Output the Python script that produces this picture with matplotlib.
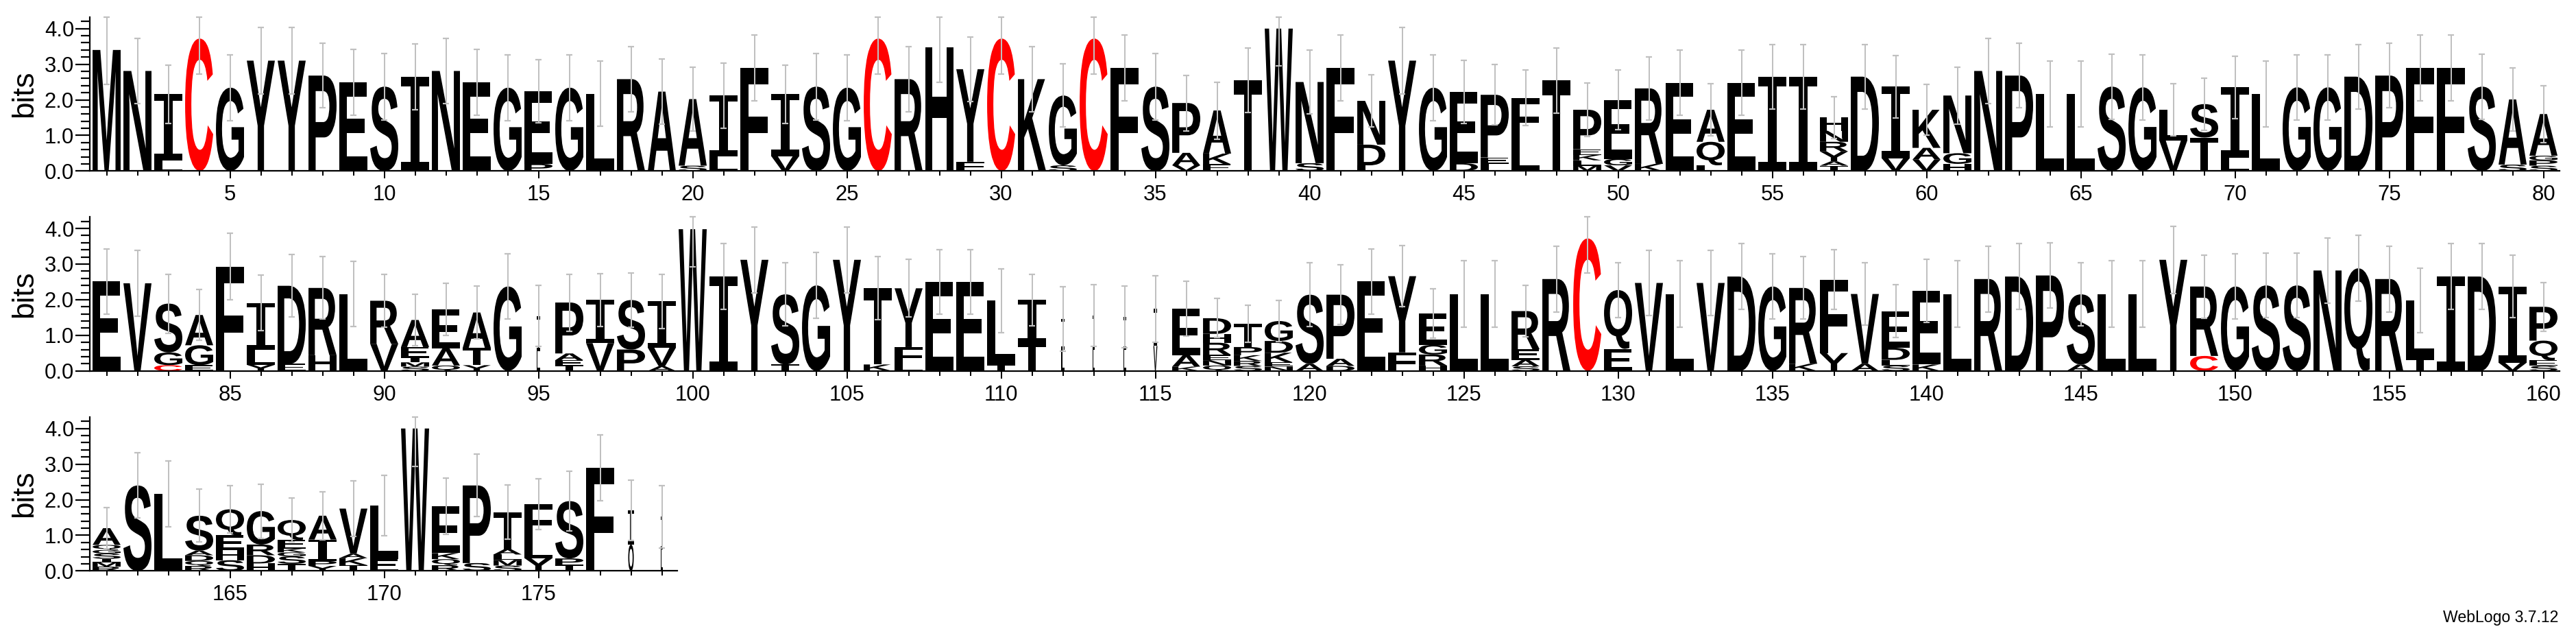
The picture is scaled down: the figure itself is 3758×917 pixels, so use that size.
import matplotlib
matplotlib.use("Agg")
import matplotlib.pyplot as plt
from matplotlib.textpath import TextPath
from matplotlib.patches import PathPatch
from matplotlib.path import Path
from matplotlib.font_manager import FontProperties
from matplotlib.transforms import Affine2D
import numpy as np

# ---------------- data (letters bottom -> top, heights in bits) ----------------
row1_letters = ["M", "N", "LI", "C", "G", "Y", "Y", "P", "E", "S",
                "I", "N", "E", "G", "PE", "G", "L", "R", "A", "SA",
                "LI", "F", "VI", "S", "G", "C", "R", "H", "FY", "C",
                "K", "SG", "C", "F", "S", "VAP", "EKA", "T", "W", "SN",
                "F", "LDN", "Y", "G", "DE", "LEP", "LF", "T", "MLKEP", "VGE",
                "KR", "E", "LQA", "E", "I", "I", "TAYRNH", "D", "VI", "VAK",
                "HGN", "N", "P", "L", "L", "S", "G", "VL", "TS", "LI",
                "L", "G", "G", "D", "P", "F", "F", "S", "SA", "SPGA"]
row1_heights = [[3.40], [2.81], [0.30, 1.86], [3.72], [2.34], [3.10], [3.10], [2.68], [2.49], [2.37],
                [2.65], [2.81], [2.49], [2.34], [0.20, 2.04], [2.34], [2.17], [2.58], [2.23], [0.15, 1.87],
                [0.42, 1.70], [2.90], [0.42, 1.74], [2.37], [2.34], [3.72], [2.58], [3.47], [0.26, 2.60], [3.72],
                [2.58], [0.16, 1.96], [3.72], [2.90], [2.37], [0.16, 0.35, 1.40], [0.19, 0.30, 1.21], [2.55], [4.00], [0.22, 2.28],
                [2.90], [0.16, 0.58, 1.23], [3.10], [2.34], [0.22, 2.00], [0.20, 0.18, 1.76], [0.94, 1.11], [2.54],
                [0.15, 0.15, 0.15, 0.16, 1.11], [0.16, 0.18, 1.66],
                [0.20, 2.12], [2.48], [0.16, 0.66, 0.90], [2.48], [2.65], [2.65],
                [0.15, 0.12, 0.28, 0.27, 0.31, 0.37], [2.65], [0.36, 2.01], [0.32, 0.33, 1.07],
                [0.20, 0.30, 1.62], [2.81], [2.68], [2.16], [2.16], [2.37], [2.35], [0.86, 0.86], [0.94, 0.94], [0.38, 1.97],
                [2.16], [2.35], [2.35], [2.65], [2.68], [2.90], [2.90], [2.37], [0.18, 1.83], [0.15, 0.15, 0.13, 1.17]]
row1_errors = [0.97, 0.92, 0.82, 0.99, 0.92, 0.93, 0.93, 0.91, 0.92, 0.93,
               0.92, 0.92, 0.92, 0.92, 0.89, 0.92, 0.92, 0.92, 0.92, 0.89,
               0.92, 0.93, 0.82, 0.93, 0.92, 0.99, 0.92, 0.97, 0.90, 0.99,
               0.92, 0.89, 0.99, 0.93, 0.93, 0.78, 0.80, 0.91, 1.05, 0.89,
               0.93, 0.73, 0.94, 0.92, 0.88, 0.85, 0.78, 0.91, 0.75, 0.84,
               0.89, 0.92, 0.74, 0.92, 0.91, 0.91, 0.59, 0.91, 0.88, 0.72,
               0.80, 0.92, 0.91, 0.92, 0.92, 0.92, 0.92, 0.74, 0.73, 0.88,
               0.92, 0.92, 0.92, 0.91, 0.90, 0.93, 0.93, 0.92, 0.89, 0.80]

row2_letters = ["E", "V", "CGS", "EGA", "F", "YLI", "ED", "HR", "L", "VR",
                "SMIEA", "QAE", "YTA", "G", "LI", "TEAP", "VI", "PS", "AVI", "W",
                "I", "Y", "TS", "G", "Y", "KT", "LFY", "E", "E", "TL",
                "TI", "LI", "LI", "LI", "VI", "KAE", "QNERHD", "SRKPT", "NEKDG", "AS",
                "DAP", "E", "FY", "HRGE", "L", "L", "SAER", "R", "C", "EQ",
                "V", "L", "V", "D", "G", "KR", "YF", "AV", "SLDE", "KE",
                "L", "R", "D", "P", "AS", "L", "L", "Y", "CR", "G",
                "S", "S", "N", "Q", "R", "TL", "I", "D", "VI", "SEQP"]
row2_heights = [[2.51], [2.46], [0.16, 0.36, 1.37], [0.16, 0.56, 0.85], [2.93], [0.17, 0.42, 1.32], [0.20, 2.19], [0.44, 1.89], [2.16], [0.76, 1.21],
                [0.12, 0.12, 0.13, 0.30, 0.76], [0.15, 0.48, 1.10], [0.16, 0.49, 0.99], [2.37], [0.55, 0.99], [0.15, 0.15, 0.19, 1.43], [0.78, 1.21], [0.60, 1.39], [0.13, 0.52, 1.30], [3.98],
                [2.65], [3.12], [0.18, 1.97], [2.40], [3.12], [0.18, 2.14], [0.18, 0.49, 1.65], [2.50], [2.50], [0.18, 1.79],
                [0.80, 1.19], [0.60, 0.86], [0.60, 0.96], [0.60, 0.92], [0.70, 1.04], [0.12, 0.32, 1.31],
                [0.15, 0.15, 0.15, 0.34, 0.25, 0.44], [0.14, 0.14, 0.16, 0.23, 0.66], [0.12, 0.12, 0.27, 0.33, 0.56], [0.20, 1.94],
                [0.14, 0.20, 1.80], [2.51], [0.52, 2.14], [0.15, 0.31, 0.27, 0.88], [2.16], [2.16], [0.13, 0.18, 0.30, 1.07], [2.58], [3.72], [0.62, 1.65],
                [2.47], [2.16], [2.47], [2.65], [2.37], [0.20, 2.13], [0.50, 2.06], [0.20, 1.96], [0.15, 0.16, 0.34, 1.03], [0.18, 2.07],
                [2.16], [2.58], [2.65], [2.68], [0.18, 1.97], [2.16], [2.16], [3.12], [0.42, 1.95], [2.37],
                [2.40], [2.40], [2.82], [2.88], [2.58], [0.36, 1.62], [2.65], [2.65], [0.23, 2.14], [0.14, 0.16, 0.55, 0.95]]
row2_errors = [0.91, 0.92, 0.83, 0.71, 0.93, 0.78, 0.88, 0.88, 0.92, 0.74,
               0.72, 0.74, 0.74, 0.92, 0.86, 0.80, 0.74, 0.76, 0.76, 1.05,
               0.92, 0.93, 0.89, 0.92, 0.93, 0.89, 0.81, 0.91, 0.91, 0.90,
               0.72, 0.91, 0.87, 0.87, 0.94, 0.77, 0.55, 0.52, 0.58, 0.89,
               0.84, 0.91, 0.86, 0.69, 0.93, 0.93, 0.73, 0.92, 0.98, 0.77,
               0.92, 0.93, 0.92, 0.92, 0.92, 0.88, 0.84, 0.88, 0.74, 0.88,
               0.93, 0.92, 0.92, 0.91, 0.89, 0.93, 0.93, 0.94, 0.89, 0.92,
               0.91, 0.91, 0.92, 0.92, 0.92, 0.90, 0.92, 0.92, 0.88, 0.68]

row3_letters = ["RMISGQA", "S", "L", "RQDAS", "SHEQ", "HDRG", "TSGKEQ", "YPIA", "TKAV", "EL",
                "W", "RQKE", "SP", "SMLAT", "YLF", "TPS", "F", "OI", "LI"]
row3_heights = [[0.12, 0.12, 0.10, 0.15, 0.10, 0.14, 0.47], [2.40], [2.16], [0.14, 0.14, 0.16, 0.13, 0.98],
                [0.30, 0.29, 0.41, 0.73], [0.21, 0.23, 0.30, 0.94], [0.20, 0.21, 0.11, 0.11, 0.24, 0.56],
                [0.14, 0.14, 0.60, 0.67], [0.16, 0.20, 0.12, 1.27], [0.33, 1.50],
                [4.00], [0.16, 0.17, 0.17, 1.32], [0.22, 2.18], [0.15, 0.16, 0.15, 0.15, 1.04],
                [0.36, 0.57, 0.95], [0.17, 0.18, 1.61], [2.90], [0.74, 0.96], [0.60, 0.92]]
row3_errors = [0.57, 0.92, 0.93, 0.74, 0.67, 0.76, 0.61, 0.68, 0.78, 0.85,
               1.06, 0.79, 0.88, 0.76, 0.71, 0.84, 0.92, 0.84, 0.87]

# narrow stacks (mostly gaps)
thin_positions = [95, 112, 113, 114, 115, 178, 179]
thin_widths = [0.12, 0.10, 0.08, 0.09, 0.13, 0.18, 0.08]

row_starts = [1, 81, 161]
watermark = "WebLogo 3.7.12"

# ---------------- layout ----------------
W, H, DPI = 3758, 917, 100
PX = 0.72  # points per pixel
UNIT = 45.0
LEFT_PX = 131.0
BASELINES = [249.3, 540.7, 832.3]
PX_PER_BIT = 51.9
YMAX = np.log2(20)
FULL_W = 0.91

fig = plt.figure(figsize=(W / DPI, H / DPI), dpi=DPI)
fig.patch.set_facecolor("white")

fp_main = FontProperties(family="Liberation Sans", weight="bold")
glyphs = {}


def serif_I_path(bar=0.10, stem=0.32):
    a, b = 0.5 - stem / 2, 0.5 + stem / 2
    verts = [(0, 0), (1, 0), (1, bar), (b, bar), (b, 1 - bar), (1, 1 - bar), (1, 1),
             (0, 1), (0, 1 - bar), (a, 1 - bar), (a, bar), (0, bar), (0, 0)]
    return Path(verts, closed=True)


def glyph(ch):
    if ch not in glyphs:
        if ch == "I":
            p = serif_I_path()
        else:
            p = TextPath((0, 0), ch, size=100, prop=fp_main)
        glyphs[ch] = (p, p.get_extents())
    return glyphs[ch]


thin = dict(zip(thin_positions, thin_widths))
rows = [(row_starts[0], row1_letters, row1_heights, row1_errors),
        (row_starts[1], row2_letters, row2_heights, row2_errors),
        (row_starts[2], row3_letters, row3_heights, row3_errors)]

label_font = "Liberation Sans"
for r, (start, letters, heights, errs) in enumerate(rows):
    n = len(letters)
    left_edge = start - 0.545
    right_edge = start - 1 + (80.52 if n == 80 else n + 0.5)
    width_px = (right_edge - left_edge) * UNIT
    ax = fig.add_axes([LEFT_PX / W, 1 - BASELINES[r] / H, width_px / W, YMAX * PX_PER_BIT / H])
    ax.set_xlim(left_edge, right_edge)
    ax.set_ylim(0, YMAX)
    positions = np.arange(start, start + n)
    tops = []
    for pos, lets, hs in zip(positions, letters, heights):
        lw = thin.get(pos, FULL_W)
        y = 0.0
        for ch, h in zip(lets, hs):
            p, ext = glyph(ch)
            tr = (Affine2D().translate(-ext.x0, -ext.y0)
                  .scale(lw / ext.width, h / ext.height)
                  .translate(pos - lw / 2, y))
            color = "#ff0000" if ch == "C" else "black"
            ax.add_patch(PathPatch(tr.transform_path(p), facecolor=color,
                                   edgecolor="none", lw=0, zorder=2))
            y += h
        tops.append(y)
    tops = np.array(tops)
    errs = np.array(errs)
    hi = np.minimum(tops + errs, YMAX)
    lo = np.maximum(tops - errs, 0)
    ecol = "#c0c0c0"
    ax.vlines(positions, lo, hi, colors=ecol, linewidth=2 * PX, zorder=3, clip_on=False)
    ax.hlines(hi, positions - 0.11, positions + 0.11, colors=ecol, linewidth=2.2 * PX, zorder=3, clip_on=False)
    ax.hlines(lo, positions - 0.11, positions + 0.11, colors=ecol, linewidth=2.2 * PX, zorder=3, clip_on=False)

    for s in ["top", "right"]:
        ax.spines[s].set_visible(False)
    for s in ["left", "bottom"]:
        ax.spines[s].set_linewidth(2.2 * PX)
    ax.set_xticks([p for p in positions if p % 5 == 0])
    ax.set_xticks(positions, minor=True)
    ax.set_xticklabels([str(p) for p in positions if p % 5 == 0])
    ax.set_yticks([0, 1, 2, 3, 4])
    ax.set_yticklabels(["0.0", "1.0", "2.0", "3.0", "4.0"])
    ax.set_yticks([v / 5 for v in range(0, 22) if v % 5 != 0], minor=True)
    ax.tick_params(axis="x", which="major", length=11 * PX, width=2 * PX, pad=9 * PX,
                   labelsize=31 * PX, direction="out")
    ax.tick_params(axis="x", which="minor", length=7 * PX, width=2 * PX, direction="out")
    ax.tick_params(axis="y", which="major", length=21 * PX, width=2.2 * PX, pad=2 * PX,
                   labelsize=31 * PX, direction="out")
    ax.tick_params(axis="y", which="minor", length=13 * PX, width=2.2 * PX, direction="out")
    for lab in ax.get_xticklabels() + ax.get_yticklabels():
        lab.set_fontfamily(label_font)
    ax.set_ylabel("bits", fontsize=44 * PX, fontfamily=label_font, labelpad=9 * PX)
    ax.patch.set_alpha(0)

fig.text(3732 / W, 1 - 906.7 / H, watermark, ha="right", va="baseline",
         fontsize=23 * PX, fontfamily=label_font)

fig.savefig("out.png", dpi=DPI, facecolor="white")
